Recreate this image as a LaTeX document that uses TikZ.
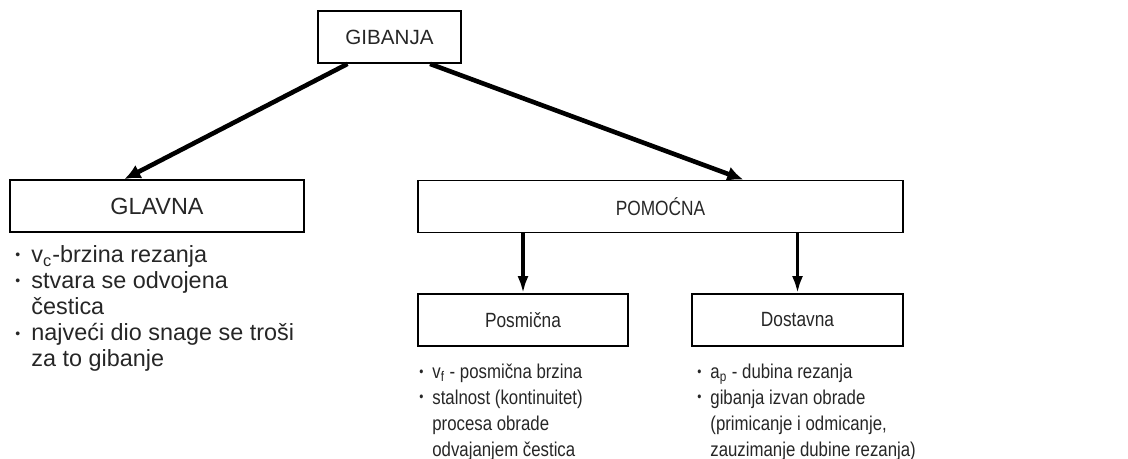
\documentclass[tikz,border=0pt]{standalone}
\usepackage{fontspec}
\setmainfont{Liberation Sans}
\newfontfamily\narrowfont[FakeStretch=0.84]{Liberation Sans}
\usetikzlibrary{arrows.meta,calc}

\newcommand{\bul}{\raisebox{1.3pt}{\scriptsize\textbullet}}

\begin{document}
\begin{tikzpicture}[x=0.5pt, y=-0.5pt,
  box/.style={draw, rectangle, line width=0.9pt, minimum height=26pt, inner sep=0pt, text=black!85},
  bigarrow/.style={-{Latex[length=8pt,width=7.5pt]}, line width=2.3pt},
  smallarrow/.style={-{Latex[length=8.5pt,width=5.5pt]}, line width=1.6pt},
  list/.style={anchor=north west, inner sep=0pt, align=left, text=black!85}]
\useasboundingbox (0,0) rectangle (1128,459);

% Vrh
\node[box, minimum width=71.5pt, font=\fontsize{10.3}{12}\selectfont] (gib) at (389.5,37) {GIBANJA};

% Druga razina
\node[box, minimum width=147pt, font=\fontsize{11.7}{13}\selectfont] (glavna) at (157,206) {GLAVNA};
\node[box, minimum width=242.5pt, font=\narrowfont\fontsize{10.3}{12}\selectfont] (pomocna) at (660.5,206.5) {POMOĆNA};

% Treca razina
\node[box, minimum width=105pt, font=\narrowfont\fontsize{10.3}{12}\selectfont] (posm) at (523,320) {Posmična};
\node[box, minimum width=105.5pt, font=\narrowfont\fontsize{10.3}{12}\selectfont] (dost) at (797.5,320) {Dostavna};

% Strelice
\draw[bigarrow] ($(gib.south west)!0.21!(gib.south east)$) -- ($(glavna.north west)!0.39!(glavna.north east)$);
\draw[bigarrow] ($(gib.south west)!0.78!(gib.south east)$) -- ($(pomocna.north west)!0.67!(pomocna.north east)$);
\draw[smallarrow] (posm.north |- pomocna.south) -- (posm.north);
\draw[smallarrow] (dost.north |- pomocna.south) -- (dost.north);

% Opisi
\node[list, font=\fontsize{11.7}{13}\selectfont] (glavnaList) at (15,244) {\begin{tabular}{@{}p{8pt}@{}l@{}}
\bul & v\textsubscript{c}-brzina rezanja\\
\bul & stvara se odvojena\\
     & čestica\\
\bul & najveći dio snage se troši\\
     & za to gibanje
\end{tabular}};
\node[list, font=\narrowfont\fontsize{10}{13}\selectfont] (posmList) at (419,360) {\begin{tabular}{@{}p{6.5pt}@{}l@{}}
\bul & v\textsubscript{f} - posmična brzina\\
\bul & stalnost (kontinuitet)\\
     & procesa obrade\\
     & odvajanjem čestica
\end{tabular}};
\node[list, font=\narrowfont\fontsize{10}{13}\selectfont] (dostList) at (697,360) {\begin{tabular}{@{}p{6.5pt}@{}l@{}}
\bul & a\textsubscript{p} - dubina rezanja\\
\bul & gibanja izvan obrade\\
     & (primicanje i odmicanje,\\
     & zauzimanje dubine rezanja)
\end{tabular}};
\end{tikzpicture}
\end{document}
